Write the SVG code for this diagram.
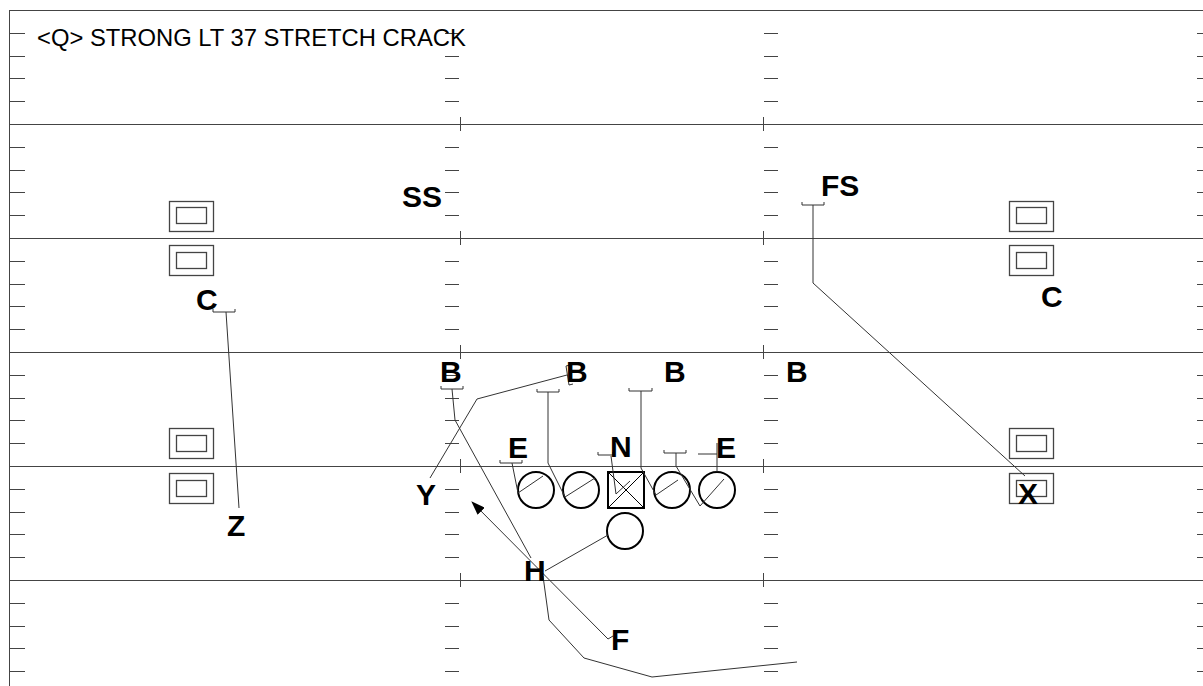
<svg xmlns="http://www.w3.org/2000/svg" width="1203" height="686" viewBox="0 0 1203 686">
<defs>
<marker id="arr" markerWidth="14" markerHeight="10" refX="13" refY="5" orient="auto" markerUnits="userSpaceOnUse"><path d="M0,0 L14,5 L0,10 z" fill="#000"/></marker>
<style>
.fl{stroke:#444;stroke-width:1;fill:none}
.rt{stroke:#333;stroke-width:1;fill:none}
.lbl{font-family:"Liberation Sans",Arial,sans-serif;font-weight:bold;font-size:30px;fill:#000}
.ttl{font-family:"Liberation Sans",Arial,sans-serif;font-size:23.8px;fill:#000}
.pl{fill:#fff;stroke:#000;stroke-width:2}
.sl{stroke:#000;stroke-width:1;fill:none}
.bx{fill:#fff;stroke:#444;stroke-width:1.3}
</style>
</defs>
<rect width="1203" height="686" fill="#fff"/>
<g id="field" class="fl">
<path d="M9.5,10 V686 M9,10.5 H1203"/>
<path d="M10,124.5 H1203 M10,238.5 H1203 M10,352.5 H1203 M10,466.5 H1203 M10,580.5 H1203"/>
<path d="M460.5,117 V131 M460.5,231 V245 M460.5,345 V359 M460.5,459 V473 M460.5,573 V587 M763.5,117 V131 M763.5,231 V245 M763.5,345 V359 M763.5,459 V473 M763.5,573 V587"/>
<path d="M10,33.5h15M10,56.5h15M10,78.5h15M10,101.5h15M10,147.5h15M10,170.5h15M10,192.5h15M10,215.5h15M10,261.5h15M10,284.5h15M10,306.5h15M10,329.5h15M10,375.5h15M10,398.5h15M10,420.5h15M10,443.5h15M10,489.5h15M10,512.5h15M10,534.5h15M10,557.5h15M10,603.5h15M10,626.5h15M10,648.5h15M10,671.5h15"/>
<path d="M445,33.5h14M445,56.5h14M445,78.5h14M445,101.5h14M445,147.5h14M445,170.5h14M445,192.5h14M445,215.5h14M445,261.5h14M445,284.5h14M445,306.5h14M445,329.5h14M445,375.5h14M445,398.5h14M445,420.5h14M445,443.5h14M445,489.5h14M445,512.5h14M445,534.5h14M445,557.5h14M445,603.5h14M445,626.5h14M445,648.5h14M445,671.5h14"/>
<path d="M764,33.5h14M764,56.5h14M764,78.5h14M764,101.5h14M764,147.5h14M764,170.5h14M764,192.5h14M764,215.5h14M764,261.5h14M764,284.5h14M764,306.5h14M764,329.5h14M764,375.5h14M764,398.5h14M764,420.5h14M764,443.5h14M764,489.5h14M764,512.5h14M764,534.5h14M764,557.5h14M764,603.5h14M764,626.5h14M764,648.5h14M764,671.5h14"/>
<path d="M1197,33.5h6M1197,56.5h6M1197,78.5h6M1197,101.5h6M1197,147.5h6M1197,170.5h6M1197,192.5h6M1197,215.5h6M1197,261.5h6M1197,284.5h6M1197,306.5h6M1197,329.5h6M1197,375.5h6M1197,398.5h6M1197,420.5h6M1197,443.5h6M1197,489.5h6M1197,512.5h6M1197,534.5h6M1197,557.5h6M1197,603.5h6M1197,626.5h6M1197,648.5h6M1197,671.5h6"/>
</g>
<text class="ttl" x="37" y="46">&lt;Q&gt; STRONG LT 37 STRETCH CRACK</text>
<g id="boxes">
<g id="box-l1"><rect class="bx" x="169.5" y="201.5" width="44" height="30"/><rect class="bx" x="176.5" y="207.5" width="30" height="16"/></g>
<g id="box-l2"><rect class="bx" x="169.5" y="245.5" width="44" height="30"/><rect class="bx" x="176.5" y="252.5" width="30" height="16"/></g>
<g id="box-l3"><rect class="bx" x="169.5" y="428.5" width="44" height="30"/><rect class="bx" x="176.5" y="435.5" width="30" height="16"/></g>
<g id="box-l4"><rect class="bx" x="169.5" y="473.5" width="44" height="30"/><rect class="bx" x="176.5" y="480.5" width="30" height="16"/></g>
<g id="box-r1"><rect class="bx" x="1009.5" y="201.5" width="44" height="30"/><rect class="bx" x="1016.5" y="207.5" width="30" height="16"/></g>
<g id="box-r2"><rect class="bx" x="1009.5" y="245.5" width="44" height="30"/><rect class="bx" x="1016.5" y="252.5" width="30" height="16"/></g>
<g id="box-r3"><rect class="bx" x="1009.5" y="428.5" width="44" height="30"/><rect class="bx" x="1016.5" y="435.5" width="30" height="16"/></g>
<g id="box-r4"><rect class="bx" x="1009.5" y="473.5" width="44" height="30"/><rect class="bx" x="1016.5" y="480.5" width="30" height="16"/></g>
</g>
<g id="line">
<g id="lt"><circle class="pl" cx="536" cy="490" r="18"/></g>
<g id="lg"><circle class="pl" cx="581" cy="490" r="18"/></g>
<g id="ctr"><rect class="pl" x="608" y="472" width="36" height="36"/><path class="sl" d="M608,472 L644,508 M644,472 L608,508"/></g>
<g id="rg"><circle class="pl" cx="672" cy="490" r="18"/></g>
<g id="rt"><circle class="pl" cx="717" cy="490" r="18"/></g>
<g id="qb"><circle class="pl" cx="625" cy="531" r="18"/></g>
</g>
<g id="connectors" class="rt">
<path d="M441,386 v3 h22 v-3 M452,389 L455,420 L531,558"/>
<path d="M613,636 L608,639 L472,502" marker-end="url(#arr)"/>
<path d="M545,571 L608,535"/>
<path d="M543,576 L549,620 L584,658 L652,677 L797,662"/>
<path d="M430,478 L477,399 L567,375 M570,365 L566,366 L569,385 L573,384"/>
<path d="M595,478 L565,497 L548,463 L548,392 M537,389 v3 h22 v-3"/>
<path d="M543,476 L518,493 L512,463 M500,460 v3 h22 v-3"/>
<path d="M630,481 L616,494 L611,456 M598,452 v3 h15 v-3"/>
<path d="M678,480 L656,495 L641,468 L641,391 M629,388 v3 h23 v-3"/>
<path d="M724,479 L700,506 L676,466 L676,453 M664,450 v3 h22 v-3"/>
<path d="M717,472 L717,443 M698,454 H717"/>
<path d="M213,309 v3 h22 v-3 M226,312 L239,508"/>
<path d="M802,202 v3 h22 v-3 M813,205 L813,283 L1025,476"/>
</g>
<g id="labels">
<text class="lbl" x="402" y="207">SS</text>
<text class="lbl" x="821" y="196">FS</text>
<text class="lbl" x="196" y="310">C</text>
<text class="lbl" x="1041" y="307">C</text>
<text class="lbl" x="440" y="382">B</text>
<text class="lbl" x="566" y="382">B</text>
<text class="lbl" x="664" y="382">B</text>
<text class="lbl" x="786" y="382">B</text>
<text class="lbl" x="508" y="458">E</text>
<text class="lbl" x="610" y="457">N</text>
<text class="lbl" x="716" y="458">E</text>
<text class="lbl" x="416" y="505">Y</text>
<text class="lbl" x="227" y="536">Z</text>
<text class="lbl" x="1018" y="504">X</text>
<text class="lbl" x="524" y="581">H</text>
<text class="lbl" x="611" y="650">F</text>
</g>
</svg>
